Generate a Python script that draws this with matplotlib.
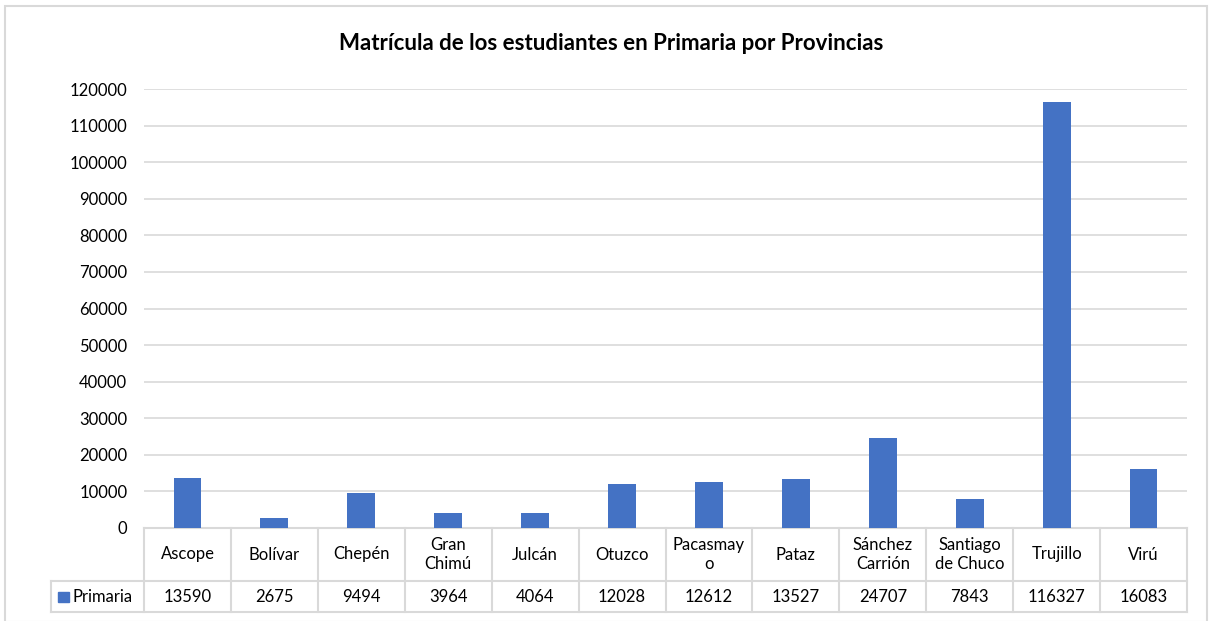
import matplotlib.pyplot as plt
from matplotlib.patches import Rectangle
from matplotlib.lines import Line2D

plt.rcParams["font.family"] = ["Lato", "DejaVu Sans"]

provincias = ["Ascope", "Bolívar", "Chepén", "Gran\nChimú", "Julcán", "Otuzco",
              "Pacasmay\no", "Pataz", "Sánchez\nCarrión", "Santiago\nde Chuco",
              "Trujillo", "Virú"]
primaria = [13590, 2675, 9494, 3964, 4064, 12028, 12612, 13527, 24707, 7843, 116327, 16083]
yticks = list(range(0, 120001, 10000))

BLUE = "#4472c4"
GRID = "#d9d9d9"
W, H = 1216, 621

fig = plt.figure(figsize=(W / 100, H / 100), dpi=100)


def fx(px):
    return px / W


def fy(py):
    return 1 - py / H


# outer chart border
fig.add_artist(Rectangle((fx(5), fy(622)), fx(1207) - fx(5), fy(6) - fy(622),
                         transform=fig.transFigure, fill=False, edgecolor=GRID, lw=1.5))

x0, x1, ytop, ybot = 144, 1187, 89, 528
ax = fig.add_axes([fx(x0), fy(ybot), fx(x1) - fx(x0), fy(ytop) - fy(ybot)])
n = len(provincias)
xs = list(range(n))
ax.bar(xs, primaria, width=0.32, color=BLUE, zorder=3)
ax.set_xlim(-0.5, n - 0.5)
ax.set_ylim(0, 120000)
ax.set_yticks(yticks)
ax.set_yticklabels([str(v) for v in yticks], fontsize=12)
ax.set_xticks([])
ax.tick_params(axis="y", length=0, pad=12)
ax.grid(axis="y", color=GRID, lw=1.2, zorder=0)
for s in ["top", "right", "left"]:
    ax.spines[s].set_visible(False)
ax.spines["bottom"].set_color(GRID)
ax.spines["bottom"].set_linewidth(1.5)

fig.text(fx(611), fy(43), "Matrícula de los estudiantes en Primaria por Provincias",
         ha="center", va="center", fontsize=16, fontweight="bold")

# data table under the axis
cat_bot, val_bot, leg_left = 581, 612, 51
colw = (x1 - x0) / n


def hline(xa, xb, y):
    fig.add_artist(Line2D([fx(xa), fx(xb)], [fy(y), fy(y)], color=GRID, lw=1.5,
                          transform=fig.transFigure))


def vline(x, ya, yb):
    fig.add_artist(Line2D([fx(x), fx(x)], [fy(ya), fy(yb)], color=GRID, lw=1.5,
                          transform=fig.transFigure))


hline(leg_left, x1, cat_bot)
hline(leg_left, x1, val_bot)
vline(leg_left, cat_bot, val_bot)
for i in range(n + 1):
    vline(x0 + i * colw, ybot, val_bot)

for i, (name, v) in enumerate(zip(provincias, primaria)):
    cx = x0 + (i + 0.5) * colw
    fig.text(fx(cx), fy((ybot + cat_bot) / 2), name, ha="center", va="center",
             fontsize=12, linespacing=1.25)
    fig.text(fx(cx), fy((cat_bot + val_bot) / 2), str(v), ha="center", va="center",
             fontsize=12)

fig.add_artist(Rectangle((fx(58), fy(602)), fx(69) - fx(58), fy(592) - fy(602),
                         transform=fig.transFigure, color=BLUE))
fig.text(fx(72), fy((cat_bot + val_bot) / 2), "Primaria", ha="left", va="center",
         fontsize=12)

fig.savefig("out.png", dpi=100)
